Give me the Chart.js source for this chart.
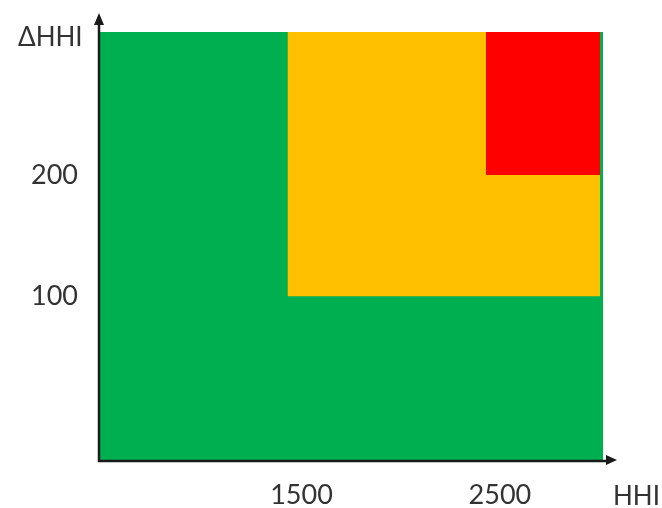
<!DOCTYPE html>
<html>
<head>
<meta charset="utf-8">
<script src="https://cdn.jsdelivr.net/npm/chart.js@4"></script>
<style>
html,body{margin:0;padding:0;background:#fff;}
canvas{display:block;}
</style>
</head>
<body>
<canvas id="c" width="662" height="508"></canvas>
<script>
// ---- data ----
const zones = ['Green', 'Yellow', 'Red'];
const hhiFrom = [550, 1500, 2500];
const hhiTo = [3090, 3076, 3076];
const deltaFrom = [-36, 100, 200];
const deltaTo = [318, 318, 318];
const zoneColors = ['#00B050', '#FFC000', '#FF0000'];
const xTicks = [1500, 2500];
const yTicks = [100, 200];
const xRange = [550, 3090];
const yRange = [-36, 318];
const xTitle = 'HHI';
const yTitle = 'ΔHHI';

const FONT = 'Lato, "Open Sans", sans-serif';
const TXT = '#333333';

const datasets = zones.map((z, i) => ({
  label: z,
  data: [{x: hhiFrom[i], y: deltaTo[i]}, {x: hhiTo[i], y: deltaTo[i]}],
  fill: {value: deltaFrom[i]},
  backgroundColor: zoneColors[i],
  borderColor: zoneColors[i],
  borderWidth: 0,
  pointRadius: 0,
  order: zones.length - 1 - i
}));

const axesPlugin = {
  id: 'axesArrows',
  afterDraw(chart) {
    const ctx = chart.ctx;
    const {left, right, top, bottom} = chart.chartArea;
    ctx.save();
    ctx.strokeStyle = '#1a1a1a';
    ctx.fillStyle = '#1a1a1a';
    ctx.lineWidth = 2.5;
    // y axis
    ctx.beginPath();
    ctx.moveTo(left, bottom + 1);
    ctx.lineTo(left, top - 8);
    ctx.stroke();
    ctx.beginPath();
    ctx.moveTo(left, top - 19);
    ctx.lineTo(left - 5, top - 7);
    ctx.lineTo(left + 5, top - 7);
    ctx.closePath();
    ctx.fill();
    // x axis
    ctx.beginPath();
    ctx.moveTo(left - 1, bottom);
    ctx.lineTo(right + 4, bottom);
    ctx.stroke();
    ctx.beginPath();
    ctx.moveTo(right + 14, bottom - 1);
    ctx.lineTo(right + 3, bottom - 6);
    ctx.lineTo(right + 3, bottom + 4);
    ctx.closePath();
    ctx.fill();
    // axis titles
    ctx.fillStyle = TXT;
    ctx.font = '26px ' + FONT;
    ctx.textBaseline = 'middle';
    ctx.textAlign = 'left';
    ctx.fillText(yTitle, 18, 38);
    ctx.textAlign = 'right';
    ctx.fillText(xTitle, 660, 497);
    ctx.restore();
  }
};

new Chart(document.getElementById('c'), {
  type: 'line',
  data: {datasets},
  options: {
    responsive: false,
    animation: false,
    layout: {padding: {left: 0, top: 32, right: 59, bottom: 0}},
    plugins: {legend: {display: false}, tooltip: {enabled: false}},
    scales: {
      x: {
        type: 'linear',
        min: xRange[0], max: xRange[1],
        grid: {display: false, drawTicks: false},
        border: {display: false},
        afterBuildTicks: s => { s.ticks = xTicks.map(v => ({value: v})); },
        afterFit: s => { s.height = 47; s.paddingLeft = 0; s.paddingRight = 0; },
        ticks: {
          autoSkip: false, maxRotation: 0,
          padding: 18, labelOffset: 14,
          color: TXT, font: {family: FONT, size: 27},
          callback: v => String(v)
        }
      },
      y: {
        type: 'linear',
        min: yRange[0], max: yRange[1],
        grid: {display: false, drawTicks: false},
        border: {display: false},
        afterBuildTicks: s => { s.ticks = yTicks.map(v => ({value: v})); },
        afterFit: s => { s.width = 99; s.paddingTop = 0; s.paddingBottom = 0; },
        ticks: {
          autoSkip: false,
          padding: 21,
          color: TXT, font: {family: FONT, size: 27},
          callback: v => String(v)
        }
      }
    }
  },
  plugins: [axesPlugin]
});
</script>
</body>
</html>
